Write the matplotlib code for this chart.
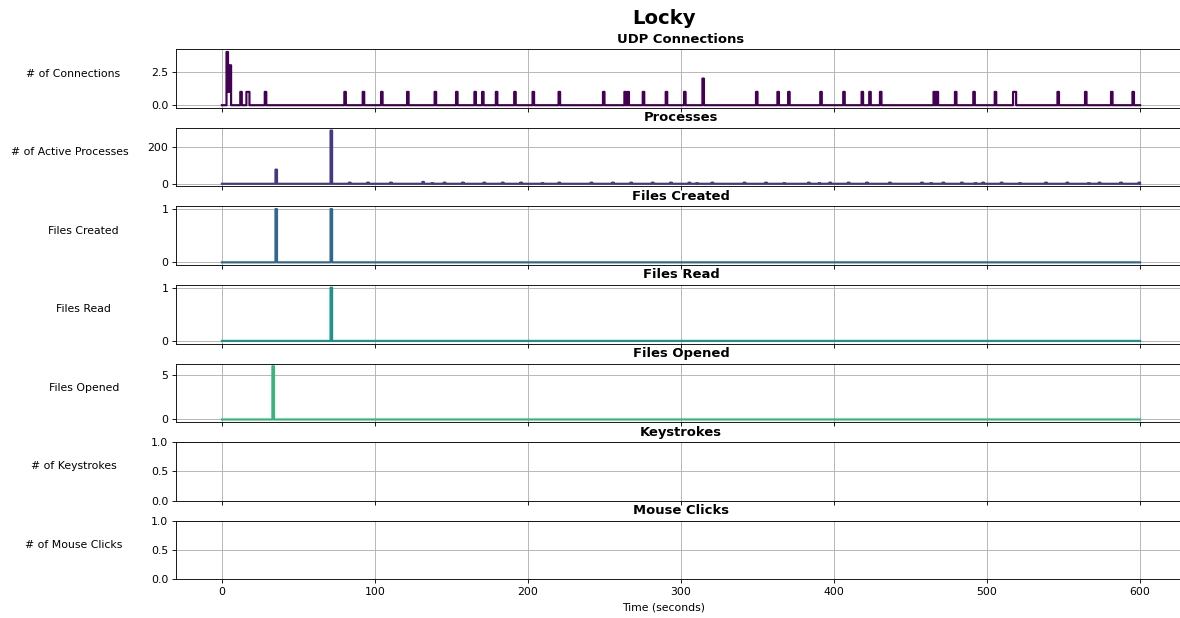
import numpy as np
import matplotlib
matplotlib.use("Agg")
import matplotlib.pyplot as plt

# ---------------- data ----------------
duration = 600  # seconds

udp_times = [3, 4, 5, 12, 16, 17, 28, 80, 92, 104, 121, 139, 153, 165, 170, 179, 191, 203,
             220, 249, 263, 265, 275, 290, 302, 314, 349, 363, 370, 391, 406, 418, 423,
             430, 465, 467, 479, 491, 505, 517, 518, 546, 564, 581, 595]
udp_values = [4, 1, 3, 1, 1, 1, 1, 1, 1, 1, 1, 1, 1, 1, 1, 1, 1, 1,
              1, 1, 1, 1, 1, 1, 1, 2, 1, 1, 1, 1, 1, 1, 1,
              1, 1, 1, 1, 1, 1, 1, 1, 1, 1, 1, 1]

proc_times = [35, 71, 83, 95, 110, 131, 137, 145, 157, 171, 183, 195, 209, 220, 241, 255,
              267, 281, 293, 305, 310, 320, 341, 355, 367, 383, 390, 397, 409, 421, 436,
              457, 463, 471, 483, 492, 497, 509, 521, 538, 552, 566, 573, 587, 599]
proc_values = [77, 290, 6, 6, 6, 10, 3, 6, 6, 6, 6, 6, 3, 6, 6, 6,
               6, 6, 6, 6, 3, 6, 6, 6, 3, 6, 3, 6, 6, 6, 6,
               6, 3, 6, 6, 3, 6, 6, 3, 6, 6, 3, 6, 6, 6]

created_times = [35, 71]
created_values = [1, 1]

read_times = [71]
read_values = [1]

opened_times = [33]
opened_values = [6]

titles = ["UDP Connections", "Processes", "Files Created", "Files Read",
          "Files Opened", "Keystrokes", "Mouse Clicks"]
ylabels = ["# of Connections", "# of Active Processes", "Files Created", "Files Read",
           "Files Opened", "# of Keystrokes", "# of Mouse Clicks"]

# ---------------- figure ----------------
DPI = 1180 / 15
fig, axes = plt.subplots(7, 1, sharex=True, figsize=(15, 618 / DPI), dpi=DPI)
fig.subplots_adjust(left=176 / 1180, right=1186 / 1180,
                    top=1 - 49.3 / 618, bottom=1 - 579.3 / 618, hspace=20 / 58.5)

colors = plt.cm.viridis(np.linspace(0, 1, 7))
t = np.arange(duration + 1)

series = [(udp_times, udp_values), (proc_times, proc_values),
          (created_times, created_values), (read_times, read_values),
          (opened_times, opened_values), None, None]

for i, ax in enumerate(axes):
    if series[i] is not None:
        times, vals = series[i]
        y = np.zeros(len(t))
        y[np.array(times)] = vals
        ax.plot(t, y, drawstyle="steps-post", color=colors[i], linewidth=2)
    ax.set_title(titles[i], fontweight="bold", fontsize=12)
    ax.set_ylabel(ylabels[i], rotation=0, labelpad=71, fontsize=10)
    ax.grid(True)

axes[-1].set_xticks([0, 100, 200, 300, 400, 500, 600])

fig.suptitle("Locky", fontsize=18, fontweight="bold", x=664 / 1180, y=1 - 18 / 618, va="center")
fig.text(664 / 1180, 1 - 608 / 618, "Time (seconds)", ha="center", va="center", fontsize=10)

fig.savefig("out.png", dpi=DPI)
